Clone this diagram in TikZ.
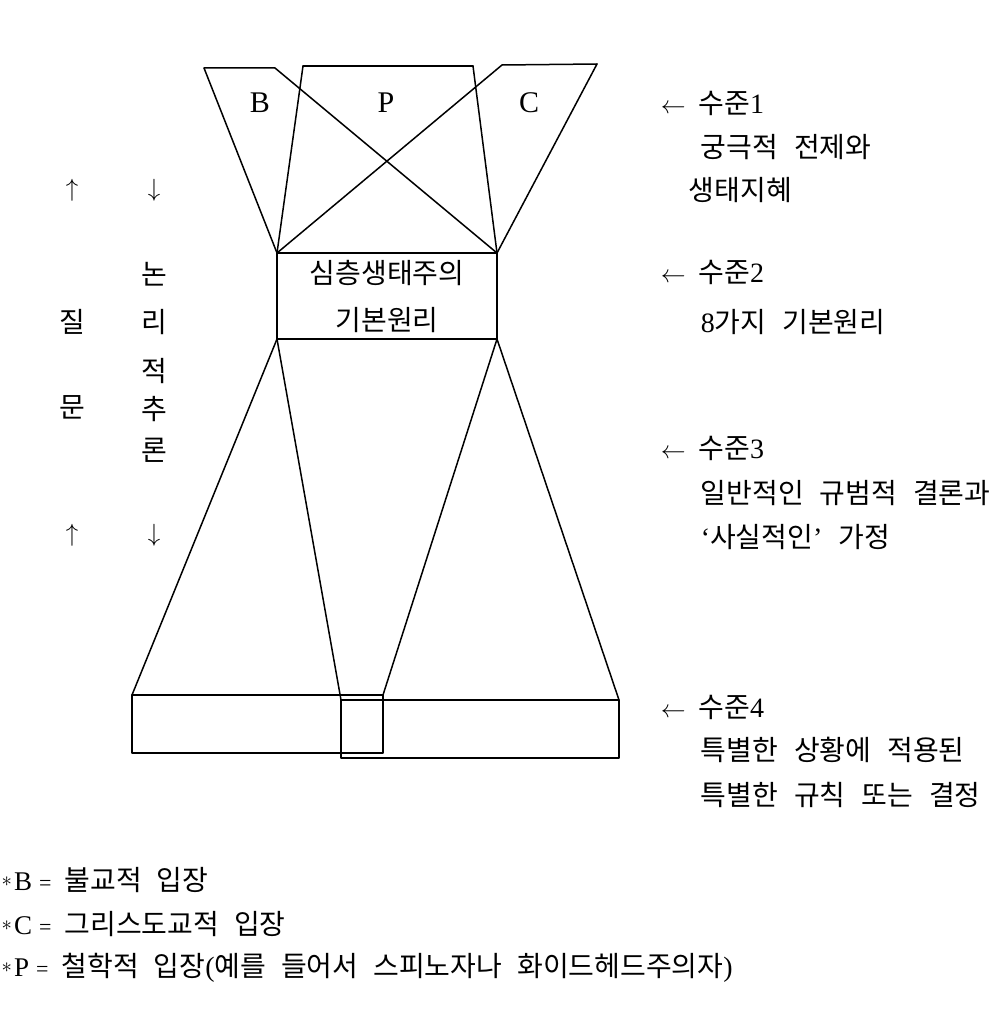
\documentclass[tikz,border=0pt]{standalone}
\usepackage{fontspec}
\setmainfont{Liberation Serif}
\newfontfamily\kr{Noto Sans CJK KR}
\newcommand\ks{\hspace{16pt}}
\newcommand\fks{\hspace{15pt}}
\newcommand\fstar{\raisebox{4pt}{\fontsize{20}{20}\selectfont$\ast$}}
\newcommand\feq{{\fontsize{22}{22}\selectfont=}}
\begin{document}
\begin{tikzpicture}[x=1pt,y=-1pt, line width=1.5pt, line cap=round, line join=round,
  lbl/.style={inner sep=0pt, font=\fontsize{28}{30}\selectfont},
  rt/.style={lbl, anchor=west},
  ftr/.style={inner sep=0pt, anchor=west, font=\fontsize{28}{30}\selectfont},
  ltr/.style={inner sep=0pt, font=\fontsize{30}{32}\selectfont},
  frame/.style={draw, inner sep=0pt, outer sep=0pt}]
\useasboundingbox (0,0) rectangle (1005,1011);
\fill[white] (0,0) rectangle (1005,1011);

% top corner points
\coordinate (b1) at (204,68);
\coordinate (b2) at (275,68);
\coordinate (p1) at (303,66);
\coordinate (p2) at (473,66);
\coordinate (c1) at (502,65);
\coordinate (c2) at (597,64);

% level 2 box
\node[frame, minimum width=220pt, minimum height=86pt, align=center,
      font=\kr\fontsize{28}{47}\selectfont] (box) at (387,296) {심층생태주의\\기본원리};

% level 4 boxes
\node[frame, anchor=north west, minimum width=251pt, minimum height=58pt] (lb) at (132,695) {};
\node[frame, anchor=north west, minimum width=278pt, minimum height=58pt] (rb) at (341,700) {};

% top figure
\draw (b1) -- (b2) -- (box.north east);
\draw (b1) -- (box.north west);
\draw (p1) -- (p2);
\draw (p1) -- (box.north west);
\draw (p2) -- (box.north east);
\draw (c2) -- (c1) -- (box.north west);
\draw (c2) -- (box.north east);

% lower figure
\draw (box.south west) -- (lb.north west);
\draw (box.south west) -- (rb.north west);
\draw (box.south east) -- (lb.north east);
\draw (box.south east) -- (rb.north east);

% letters
\node[ltr] (tB) at (260,103) {B};
\node[ltr] (tP) at (386,103) {P};
\node[ltr] (tC) at (529,103) {C};

% right column
\node[rt] (l1) at (660,103) {$\leftarrow$\hspace{13pt}{\kr 수준}1};
\node[rt] (l1a) at (700,147) {\kr 궁극적\ks 전제와};
\node[rt] (l1b) at (688,190) {\kr 생태지혜};
\node[rt] (l2) at (660,272) {$\leftarrow$\hspace{13pt}{\kr 수준}2};
\node[rt] (l2a) at (700,322) {8{\kr 가지\ks 기본원리}};
\node[rt] (l3) at (660,448) {$\leftarrow$\hspace{13pt}{\kr 수준}3};
\node[rt] (l3a) at (700,493) {\kr 일반적인\ks 규범적\ks 결론과};
\node[rt] (l3b) at (700,537) {`{\kr 사실적인}'{\kr\ks 가정}};
\node[rt] (l4) at (660,707) {$\leftarrow$\hspace{13pt}{\kr 수준}4};
\node[rt] (l4a) at (700,750) {\kr 특별한\ks 상황에\ks 적용된};
\node[rt] (l4b) at (700,795) {\kr 특별한\ks 규칙\ks 또는\ks 결정};

% left column
\node[lbl] (u1) at (72,190) {$\uparrow$};
\node[lbl] (d1) at (154,190) {$\downarrow$};
\node[lbl] (k1) at (154,274) {\kr 논};
\node[lbl] (q1) at (72,322) {\kr 질};
\node[lbl] (k2) at (154,322) {\kr 리};
\node[lbl] (k3) at (154,371) {\kr 적};
\node[lbl] (q2) at (72,407) {\kr 문};
\node[lbl] (k4) at (154,409) {\kr 추};
\node[lbl] (k5) at (154,450) {\kr 론};
\node[lbl] (u2) at (72,535) {$\uparrow$};
\node[lbl] (d2) at (154,535) {$\downarrow$};

% footer
\node[ftr] (f1) at (1,880) {\fstar\hspace{2pt}{\fontsize{27}{30}\selectfont B}\hspace{7pt}\feq\hspace{13pt}{\kr 불교적\fks 입장}};
\node[ftr] (f2) at (1,924) {\fstar\hspace{2pt}{\fontsize{27}{30}\selectfont C}\hspace{7pt}\feq\hspace{13pt}{\kr 그리스도교적\fks 입장}};
\node[ftr] (f3) at (1,968) {\fstar\hspace{2pt}{\fontsize{27}{30}\selectfont P}\hspace{7pt}\feq\hspace{13pt}{\kr 철학적\fks 입장}({\kr 예를\fks 들어서\fks 스피노자나\fks 화이드헤드주의자})};
\end{tikzpicture}
\end{document}
